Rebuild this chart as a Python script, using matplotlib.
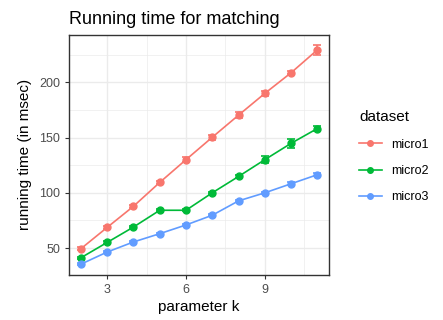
import matplotlib.pyplot as plt
import numpy as np

# Данные
k = [2, 3, 4, 5, 6, 7, 8, 9, 10, 11]
micro1 = [49.4, 68.7, 87.8, 109.4, 130, 150.3, 170.3, 190, 208.7, 229.4]
micro2 = [41.2, 55.1, 69, 84.2, 84.2, 100, 114.8, 130, 144.8, 158.2]
micro3 = [35.4, 46.4, 55.5, 63, 70.9, 79.7, 92.7, 100, 108.2, 116.4]
err1 = [1.5, 1.5, 1.5, 1.5, 2, 2.5, 3, 2.5, 1.5, 4.5]
err2 = [1, 1, 1, 1, 1, 1, 1, 3, 4, 2]
err3 = [1, 1, 1, 1, 1, 1, 1, 1, 1.5, 1.5]
names = ['micro1', 'micro2', 'micro3']
colors = ['#F8766D', '#00BA38', '#619CFF']
xticks = [3, 6, 9]
yticks = [50, 100, 150, 200]

plt.rcParams['font.family'] = ['Liberation Sans', 'DejaVu Sans']

fig = plt.figure(figsize=(4.43, 3.2), dpi=100)
ax = fig.add_axes([0.156, 0.141, 0.587, 0.75])

handles = []
for y, e, c, n in zip([micro1, micro2, micro3], [err1, err2, err3], colors, names):
    ax.errorbar(k, y, yerr=e, color=c, capsize=3, elinewidth=1.2, capthick=1.2,
                linewidth=1.2, marker='o', markersize=5, zorder=3)
    h, = ax.plot([], [], color=c, marker='o', markersize=4, linewidth=1.2)
    handles.append(h)

ax.set_xlim(1.55, 11.45)
ax.set_ylim(25.7, 243)
ax.set_xticks(xticks)
ax.set_yticks(yticks)
ax.set_xticks([4.5, 7.5, 10.5], minor=True)
ax.set_yticks([75, 125, 175, 225], minor=True)
ax.grid(True, which='major', color='#EBEBEB', linewidth=1.0)
ax.grid(True, which='minor', color='#EBEBEB', linewidth=0.5)
ax.set_axisbelow(True)
ax.tick_params(which='minor', length=0)
ax.tick_params(which='major', length=3, color='#333333', labelsize=9,
               labelcolor='#4D4D4D', width=0.8)
for s in ax.spines.values():
    s.set_color('#333333')
    s.set_linewidth(1.0)

ax.set_xlabel('parameter k', fontsize=11, labelpad=3)
ax.set_ylabel('running time (in msec)', fontsize=11, labelpad=5)
ax.set_title('Running time for matching', fontsize=13, loc='left', pad=8, x=0.0)

fig.legend(handles, names, title='dataset', loc='center left',
           bbox_to_anchor=(0.785, 0.51), frameon=False, fontsize=9,
           title_fontsize=11, handlelength=1.8, labelspacing=1.15,
           alignment='left')

plt.savefig('out.png', dpi=100)
